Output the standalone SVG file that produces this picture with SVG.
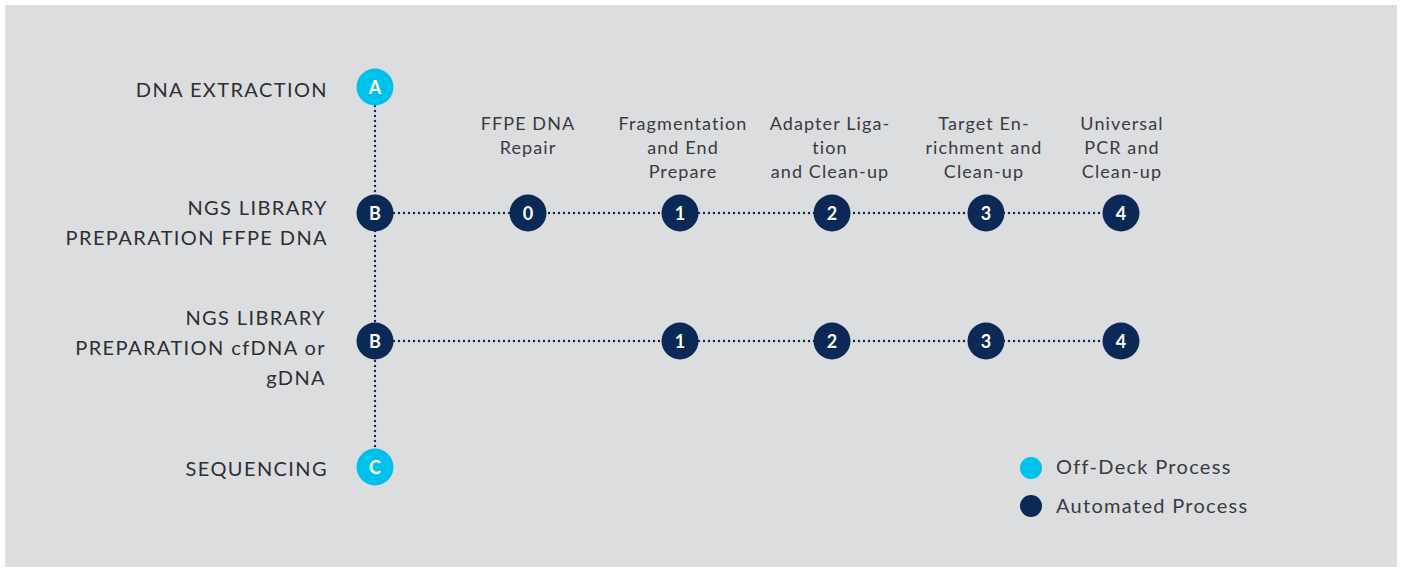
<svg xmlns="http://www.w3.org/2000/svg" width="1404" height="568" viewBox="0 0 1404 568">
<style>
.lbl{font-family:"Lato","Liberation Sans",sans-serif;font-size:20px;fill:#2e2e33;letter-spacing:1.4px;text-anchor:end}
.step{font-family:"Lato","Liberation Sans",sans-serif;font-size:18px;fill:#3a3a3f;letter-spacing:1.1px;text-anchor:middle}
.leg{font-family:"Lato","Liberation Sans",sans-serif;font-size:20px;fill:#3a3a3f;letter-spacing:1.3px}
.num{font-family:"Lato","Liberation Sans",sans-serif;font-size:18px;font-weight:bold;fill:#ffffff;text-anchor:middle}
.off{fill:#00c0ec}
.auto{fill:#0b2957}
.dot{stroke:#0b2957;stroke-width:2.4;stroke-dasharray:0 5;stroke-linecap:round;fill:none}
</style>
<rect x="5" y="5" width="1392" height="562" fill="#dcdddf"/>
<g id="connectors">
<line class="dot" x1="375" y1="106" x2="375" y2="448"/>
<line class="dot" x1="394" y1="213" x2="1102" y2="213"/>
<line class="dot" x1="394" y1="341" x2="1102" y2="341"/>
</g>
<g id="labels">
<text class="lbl" x="328" y="97">DNA EXTRACTION</text>
<text class="lbl" x="328" y="215">NGS LIBRARY</text>
<text class="lbl" x="328" y="245">PREPARATION FFPE DNA</text>
<text class="lbl" x="326" y="325">NGS LIBRARY</text>
<text class="lbl" x="326" y="355">PREPARATION cfDNA or</text>
<text class="lbl" x="326" y="385">gDNA</text>
<text class="lbl" x="328" y="476">SEQUENCING</text>
</g>
<g id="nodeA"><circle class="off" cx="375" cy="87" r="18.5"/><text class="num" x="375" y="93.5">A</text></g>
<g id="nodeB1"><circle class="auto" cx="375" cy="213" r="18.5"/><text class="num" x="375" y="219.5">B</text></g>
<g id="nodeB2"><circle class="auto" cx="375" cy="341" r="18.5"/><text class="num" x="375" y="347.5">B</text></g>
<g id="nodeC"><circle class="off" cx="375" cy="467" r="18.5"/><text class="num" x="375" y="473.5">C</text></g>
<g id="step0">
<text class="step" x="528" y="130">FFPE DNA</text>
<text class="step" x="528" y="154">Repair</text>
<circle class="auto" cx="528" cy="213" r="18.5"/><text class="num" x="528" y="219.5">0</text>
</g>
<g id="step1a">
<text class="step" x="683" y="130">Fragmentation</text>
<text class="step" x="683" y="154">and End</text>
<text class="step" x="683" y="178">Prepare</text>
<circle class="auto" cx="680" cy="213" r="18.5"/><text class="num" x="680" y="219.5">1</text>
</g>
<g id="step2a">
<text class="step" x="830" y="130">Adapter Liga-</text>
<text class="step" x="830" y="154">tion</text>
<text class="step" x="830" y="178">and Clean-up</text>
<circle class="auto" cx="832" cy="213" r="18.5"/><text class="num" x="832" y="219.5">2</text>
</g>
<g id="step3a">
<text class="step" x="984" y="130">Target En-</text>
<text class="step" x="984" y="154">richment and</text>
<text class="step" x="984" y="178">Clean-up</text>
<circle class="auto" cx="986" cy="213" r="18.5"/><text class="num" x="986" y="219.5">3</text>
</g>
<g id="step4a">
<text class="step" x="1122" y="130">Universal</text>
<text class="step" x="1122" y="154">PCR and</text>
<text class="step" x="1122" y="178">Clean-up</text>
<circle class="auto" cx="1121" cy="213" r="18.5"/><text class="num" x="1121" y="219.5">4</text>
</g>
<g id="step1b"><circle class="auto" cx="680" cy="341" r="18.5"/><text class="num" x="680" y="347.5">1</text></g>
<g id="step2b"><circle class="auto" cx="832" cy="341" r="18.5"/><text class="num" x="832" y="347.5">2</text></g>
<g id="step3b"><circle class="auto" cx="986" cy="341" r="18.5"/><text class="num" x="986" y="347.5">3</text></g>
<g id="step4b"><circle class="auto" cx="1121" cy="341" r="18.5"/><text class="num" x="1121" y="347.5">4</text></g>
<g id="legend">
<circle class="off" cx="1031" cy="468" r="11"/>
<text class="leg" x="1056" y="474">Off-Deck Process</text>
<circle class="auto" cx="1031" cy="506" r="11"/>
<text class="leg" x="1056" y="513">Automated Process</text>
</g>
</svg>
